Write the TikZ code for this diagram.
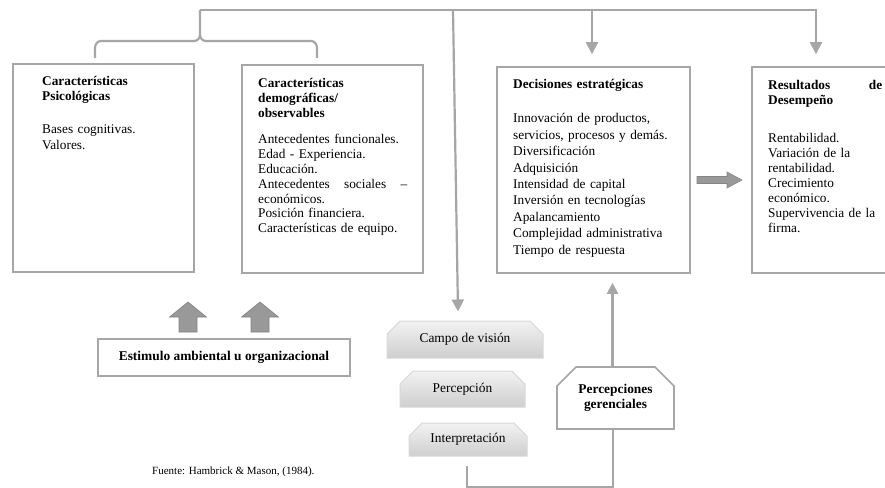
\documentclass[tikz,border=0pt]{standalone}
\usepackage{fontspec}
\setmainfont{Liberation Serif}
\usetikzlibrary{shapes.misc,arrows.meta}
\definecolor{lg}{HTML}{A6A6A6}
\definecolor{ag}{HTML}{999999}
\definecolor{agd}{HTML}{858585}
\tikzset{
 box/.style={draw=lg, line width=1.6pt, fill=white, inner sep=0pt},
 txt/.style={anchor=base west, inner sep=0pt, align=left},
 conn/.style={draw=lg, line width=2.2pt},
 tip/.style={-{Triangle[length=12pt,width=12pt]}},
 graybox/.style={chamfered rectangle, chamfered rectangle corners={north west,north east},
   chamfered rectangle xsep=7pt, chamfered rectangle ysep=7pt, draw=gray!30, line width=1pt,
   top color=gray!10, bottom color=gray!38, inner sep=0pt, font=\fontsize{13.4}{15}\selectfont},
 whitebox/.style={chamfered rectangle, chamfered rectangle corners={north west,north east},
   chamfered rectangle xsep=9pt, chamfered rectangle ysep=10pt, draw=lg, line width=1.6pt,
   fill=white, inner sep=0pt, align=center, font=\fontsize{13.4}{15}\selectfont\bfseries},
 blockarrow/.style={fill=ag, draw=agd, line width=0.6pt, line join=miter}
}
\begin{document}
\begin{tikzpicture}[x=1pt,y=-1pt]
\useasboundingbox (0,0) rectangle (885,487);
\clip (0,0) rectangle (885,487);
\fill[white] (0,0) rectangle (885,487);

% boxes
\node[box, minimum width=181pt, minimum height=208pt] (b1) at (103.5,168) {};
\node[box, minimum width=181pt, minimum height=208pt] (b2) at (332.5,169) {};
\node[box, minimum width=193pt, minimum height=206pt] (b3) at (593.5,170) {};
\node[box, minimum width=148pt, minimum height=206pt] (b4) at (826,170) {};
\node[box, minimum width=252pt, minimum height=37pt, font=\fontsize{13.4}{15}\selectfont\bfseries] (est) at (224,357.5) {Estimulo ambiental u organizacional};

% texts in boxes
\node[txt, text width=145pt, font=\fontsize{13.3}{15.5}\selectfont] (t1) at (42,85)
 {\textbf{Características}\\\textbf{Psicológicas}\\[17.5pt]Bases cognitivas.\\Valores.};
\node[txt, text width=149pt, font=\fontsize{13.3}{14.8}\selectfont] (t2) at (258,87.5)
 {\textbf{Características}\\\textbf{demográficas/}\\\textbf{observables}\\[12pt]Antecedentes funcionales.\\Edad - Experiencia.\\Educación.\\Antecedentes\hfill sociales\hfill –\\económicos.\\Posición financiera.\\Características de equipo.};
\node[txt, text width=172pt, font=\fontsize{13.3}{16.4}\selectfont] (t3) at (513,88.5)
 {\textbf{Decisiones estratégicas}\\[18pt]Innovación de productos,\\servicios, procesos y demás.\\Diversificación\\Adquisición\\Intensidad de capital\\Inversión en tecnologías\\Apalancamiento\\Complejidad administrativa\\Tiempo de respuesta};
\node[txt, text width=114pt, font=\fontsize{13.3}{15}\selectfont] (t4) at (768,89)
 {\textbf{Resultados\hfill de}\\\textbf{Desempeño}\\[23pt]Rentabilidad.\\Variación de la\\rentabilidad.\\Crecimiento\\económico.\\Supervivencia de la\\firma.};

% gray process boxes
\node[graybox, minimum width=156pt, minimum height=37pt] (campo) at (465,339.5) {Campo de visión};
\node[graybox, minimum width=125pt, minimum height=36pt] (perc) at (462.5,389) {Percepción};
\node[graybox, minimum width=118pt, minimum height=33pt] (interp) at (468,439.5) {Interpretación};
\node[whitebox, minimum width=117pt, minimum height=62pt] (pg) at (615.5,398) {Percepciones\\gerenciales};

% source
\node[txt, font=\fontsize{11}{13}\selectfont] (src) at (152,474) {Fuente: Hambrick \& Mason, (1984).};

% top connectors
\coordinate (bt) at (200,10);
\coordinate (j1) at (453,10);
\coordinate (j3) at (592,10);
\coordinate (j4) at (816,10);
\coordinate (a1) at (95,58);
\coordinate (a2) at (317,58);
\draw[conn, line join=round] (a1) -- (95,48) to[out=90,in=180] (101,41) -- (194,41) to[out=0,in=-90] (200,35) -- (bt);
\draw[conn, line join=round] (a2) -- (317,48) to[out=90,in=0] (311,41) -- (206,41) to[out=180,in=-90] (200,35);
\draw[conn, tip, shorten >=12pt] (bt) -- (j4) -- (j4 |- b4.north);
\draw[conn, tip, shorten >=12pt] (j3) -- (j3 |- b3.north);
\coordinate (ca) at ([xshift=-7pt,yshift=9pt]campo.north);
\draw[conn, tip] (j1) -- (ca);

% percepciones gerenciales connectors
\draw[conn, -{Triangle[length=11pt,width=11pt]}, shorten >=9pt] ([xshift=-3pt]pg.north) -- ([xshift=-3pt]pg.north |- b3.south);
\coordinate (ie) at ([xshift=-1pt,yshift=-9pt]interp.south);
\draw[conn] ([xshift=-2.5pt]pg.south) -- ++(0,57) -| (ie);

% block arrows (stimulus -> characteristics)
\foreach \c in {188,260}{
 \draw[blockarrow] (\c-9,332) -- (\c-9,317) -- (\c-18.5,317) -- (\c,302) -- (\c+18.5,317) -- (\c+9,317) -- (\c+9,332) -- cycle;
}
% block arrow decisions -> results
\draw[blockarrow] (697,176.5) -- (727,176.5) -- (727,172) -- (742,180) -- (727,188) -- (727,183.5) -- (697,183.5) -- cycle;
\end{tikzpicture}
\end{document}
